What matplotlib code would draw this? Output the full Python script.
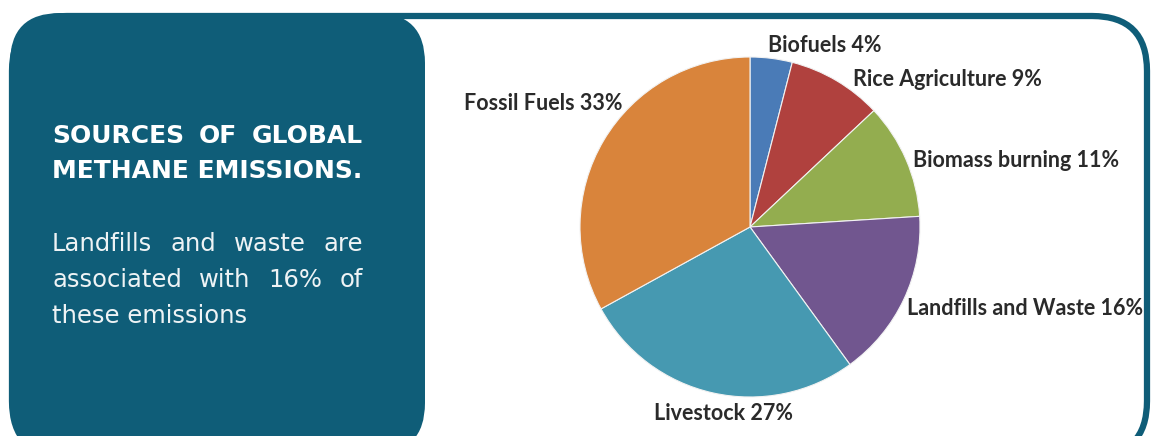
import matplotlib.pyplot as plt
from matplotlib.patches import FancyBboxPatch

# methane sources, clockwise from 12 o'clock
sources = ["Biofuels", "Rice Agriculture", "Biomass burning",
           "Landfills and Waste", "Livestock", "Fossil Fuels"]
shares = [4, 9, 11, 16, 27, 33]
colors = ["#4a7bb7", "#b0413e", "#93ad4f", "#71568f", "#4699b1", "#d9843b"]

title_lines = ["SOURCES OF GLOBAL", "METHANE EMISSIONS."]
body_lines = ["Landfills and waste are", "associated with 16% of", "these emissions"]

teal = "#0f5d78"
W, H = 1152, 436

fig = plt.figure(figsize=(W/100, H/100), dpi=100)
bg = fig.add_axes([0, 0, 1, 1])
bg.set_xlim(0, W)
bg.set_ylim(H, 0)
bg.axis("off")

# outer frame and the filled side panel
bg.add_patch(FancyBboxPatch((12, 16), 1135, 440, boxstyle="round,pad=0,rounding_size=55",
                            fc="white", ec=teal, lw=4.5))
bg.add_patch(FancyBboxPatch((10, 13), 415, 440, boxstyle="round,pad=0,rounding_size=50",
                            fc=teal, ec="none"))

fig.canvas.draw()
r = fig.canvas.get_renderer()

def justified(lines, y0, dy, x0, x1, last_left=True, **kw):
    for i, line in enumerate(lines):
        y = y0 + i*dy
        words = line.split()
        if (last_left and i == len(lines) - 1) or len(words) == 1:
            bg.text(x0, y, line, ha="left", va="baseline", **kw)
            continue
        ts = [bg.text(0, y, w, ha="left", va="baseline", **kw) for w in words]
        widths = [t.get_window_extent(r).width for t in ts]
        gap = (x1 - x0 - sum(widths)) / (len(words) - 1)
        x = x0
        for t, w in zip(ts, widths):
            t.set_x(x)
            x += w + gap

justified(title_lines, 143, 35, 52, 363, color="white", fontsize=18,
          fontweight="bold", family="DejaVu Sans")
justified(body_lines, 251, 36, 52, 363, color="#eef3f5", fontsize=17.5,
          family="DejaVu Sans")

# pie
cx, cy, rad = 750, 227, 170
ax = fig.add_axes([(cx-rad)/W, (H-cy-rad)/H, 2*rad/W, 2*rad/H])
ax.pie(shares, colors=colors, startangle=90, counterclock=False,
       wedgeprops=dict(edgecolor="#f2f2f2", linewidth=0.8))
ax.set_xlim(-1, 1)
ax.set_ylim(-1, 1)

label_pos = [(768, 46), (853, 80), (913, 160), (907, 308), (654, 413), (464, 103)]
for name, val, (x, y) in zip(sources, shares, label_pos):
    bg.text(x, y, f"{name} {val}%", ha="left", va="center", fontsize=15.5,
            fontweight="bold", family="Lato", color="#2a2a2a")

plt.savefig("out.png", dpi=100)
